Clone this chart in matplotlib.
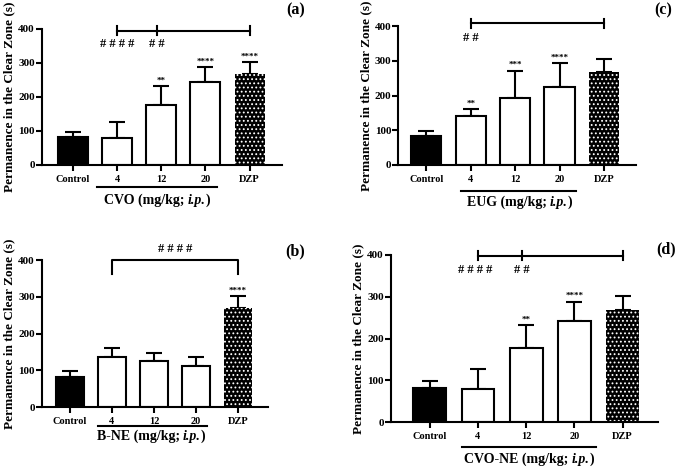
import matplotlib
matplotlib.use("Agg")
import matplotlib.pyplot as plt
from matplotlib.offsetbox import TextArea, HPacker, AnnotationBbox

plt.rcParams['font.family'] = ['Liberation Serif', 'DejaVu Serif']
plt.rcParams['font.weight'] = 'bold'
plt.rcParams['hatch.linewidth'] = 0.8

groups = ['Control', '4', '12', '20', 'DZP']

# panel data: mean and SEM (upper error only)
cvo_mean = [82, 80, 177, 243, 268]
cvo_err = [16, 47, 55, 45, 35]
cvo_stars = ['', '', '**', '****', '****']

eug_mean = [82, 140, 193, 224, 268]
eug_err = [15, 20, 79, 70, 36]
eug_stars = ['', '**', '***', '****', '']

bne_mean = [83, 137, 125, 111, 270]
bne_err = [15, 23, 23, 26, 33]
bne_stars = ['', '', '', '', '****']

cvone_mean = [82, 80, 177, 243, 268]
cvone_err = [16, 47, 55, 45, 35]
cvone_stars = ['', '', '**', '****', '']

fig = plt.figure(figsize=(6.76, 4.67), dpi=100)


def draw_panel(rect, mean, err, stars, xlim, name, label, label_xy, group_line, name_xy):
    ax = fig.add_axes(rect)
    x = list(range(len(groups)))
    colors = ['black', 'white', 'white', 'white', 'black']
    ax.bar(x[:4], mean[:4], width=0.68, color=colors[:4], edgecolor='black',
           linewidth=1.5, zorder=2)
    # DZP: black with white dots
    ax.bar(x[4], mean[4], width=0.68, color='black', edgecolor='white',
           hatch='....', linewidth=0, zorder=2)
    ax.errorbar(x, mean, yerr=[[0] * len(err), err], fmt='none', ecolor='black',
                elinewidth=1.5, capsize=6, capthick=1.5, zorder=1)
    for xi, m, e, s in zip(x, mean, err, stars):
        if s:
            ax.text(xi, m + e + 4, s, ha='center', va='bottom', fontsize=6.5)
    ax.set_xlim(*xlim)
    ax.set_ylim(0, 400)
    ax.set_yticks([0, 100, 200, 300, 400])
    ax.set_xticks(x)
    ax.set_xticklabels(groups, fontsize=7.5, fontweight='bold')
    ax.tick_params(axis='y', labelsize=8, width=1.5, length=4, pad=1)
    ax.tick_params(axis='x', width=1.5, length=4, pad=3)
    for t in ax.get_yticklabels():
        t.set_fontweight('bold')
    for sp in ['top', 'right']:
        ax.spines[sp].set_visible(False)
    for sp in ['left', 'bottom']:
        ax.spines[sp].set_linewidth(1.5)
    ax.set_ylabel('Permanence in the Clear Zone (s)', fontsize=9.5,
                  fontweight='bold', labelpad=2)
    tr = ax.get_xaxis_transform()
    ax.plot(group_line[:2], [group_line[2]] * 2, color='black', lw=1.5,
            transform=tr, clip_on=False)
    parts = HPacker(children=[
        TextArea(name + ' (mg/kg; ', textprops=dict(fontsize=10, fontweight='bold')),
        TextArea('i.p.', textprops=dict(fontsize=10, fontweight='bold', style='italic')),
        TextArea(')', textprops=dict(fontsize=10, fontweight='bold')),
    ], align='baseline', pad=0, sep=0)
    ab = AnnotationBbox(parts, name_xy, xycoords=tr, frameon=False,
                        box_alignment=(0.5, 0.5), pad=0, annotation_clip=False)
    ax.add_artist(ab)
    fig.text(label_xy[0], label_xy[1], label, fontsize=11.5, fontweight='bold',
             ha='center', va='center')
    return ax


def bracket(ax, x0, x1, y, ticks, h=13):
    ax.plot([x0, x1], [y, y], color='black', lw=1.5, clip_on=False)
    for t in ticks:
        ax.plot([t, t], [y - h, y + h], color='black', lw=1.5, clip_on=False)


# (a)
ax_a = draw_panel([0.062, 0.647, 0.355, 0.291], cvo_mean, cvo_err, cvo_stars,
                  (-0.7, 4.73), 'CVO', '(a)', (0.437, 0.978),
                  (0.55, 3.27, -0.16), (1.9, -0.26))
bracket(ax_a, 1, 4, 395, [1, 1.9, 4])
ax_a.text(1, 356, '# # # #', ha='center', va='center', fontsize=9)
ax_a.text(1.9, 356, '# #', ha='center', va='center', fontsize=9)

# (c)
ax_c = draw_panel([0.589, 0.647, 0.352, 0.297], eug_mean, eug_err, eug_stars,
                  (-0.63, 4.72), 'EUG', '(c)', (0.981, 0.978),
                  (0.78, 3.36, -0.19), (2.1, -0.27))
bracket(ax_c, 1, 4, 408, [1, 4])
ax_c.text(1, 365, '# #', ha='center', va='center', fontsize=9)

# (b)
ax_b = draw_panel([0.062, 0.128, 0.334, 0.315], bne_mean, bne_err, bne_stars,
                  (-0.67, 4.71), 'B-NE', '(b)', (0.437, 0.462),
                  (0.67, 3.26, -0.13), (1.93, -0.2))
ax_b.plot([1, 1, 4, 4], [362, 400, 400, 362], color='black', lw=1.5, clip_on=False)
ax_b.text(2.5, 430, '# # # #', ha='center', va='center', fontsize=9)

# (d)
ax_d = draw_panel([0.578, 0.096, 0.395, 0.358], cvone_mean, cvone_err, cvone_stars,
                  (-0.81, 4.73), 'CVO-NE', '(d)', (0.985, 0.467),
                  (0.67, 3.44, -0.15), (2.06, -0.222))
bracket(ax_d, 1, 4, 398, [1, 1.92, 4], h=11)
ax_d.text(0.95, 364, '# # # #', ha='center', va='center', fontsize=9)
ax_d.text(1.9, 364, '# #', ha='center', va='center', fontsize=9)

fig.savefig('out.png', dpi=100)
